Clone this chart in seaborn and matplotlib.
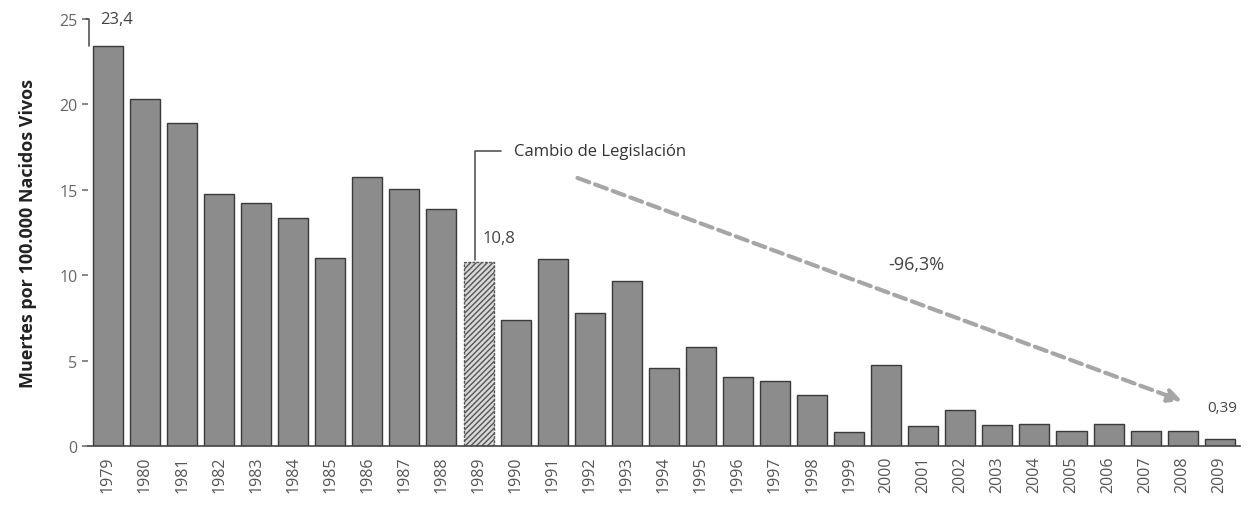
import matplotlib
matplotlib.use("Agg")
import matplotlib.pyplot as plt
import seaborn as sns
import pandas as pd
import numpy as np

years = [str(y) for y in [1979] + list(range(1980, 2010))]
values = [23.4, 20.3, 18.9, 14.75, 14.2, 13.35, 11.0, 15.75, 15.05, 13.9,
          10.8, 7.4, 10.95, 7.8, 9.65, 4.55, 5.8, 4.05, 3.8, 3.0,
          0.8, 4.75, 1.15, 2.1, 1.25, 1.3, 0.9, 1.3, 0.85, 0.85, 0.39]
yticks = [0, 5, 10, 15, 20, 25]

sns.set_theme(style="white")
plt.rcParams['font.family'] = ['Open Sans', 'DejaVu Sans']

df = pd.DataFrame({"year": years, "value": values})

fig = plt.figure(figsize=(12.51, 5.06), dpi=100)
ax = fig.add_axes([0.0703, 0.1166, 0.991 - 0.0703, 0.9605 - 0.1166])

sns.barplot(data=df, x="year", y="value", color="#8c8c8c", saturation=1,
            width=0.81, edgecolor="#3a3a3a", linewidth=1.0, ax=ax)

# hatched 1989 bar
idx89 = years.index("1989")
p = ax.patches[idx89]
p.set_facecolor("#d9d9d9")
p.set_hatch("//////")
p.set_edgecolor("#555555")
p.set_linestyle((0, (2, 1)))

ax.set_ylim(0, 25)
ax.set_xlim(-0.54, len(years) - 0.46)
ax.set_yticks(yticks)
ax.set_yticklabels([str(t) for t in yticks], fontsize=11.5, color="#666666")
ax.set_xlabel("")
ax.set_ylabel("Muertes por 100.000 Nacidos Vivos", fontsize=13, fontweight="bold",
              color="#222222", labelpad=16)
ax.tick_params(axis="x", which="major", length=0, rotation=90, labelsize=11.5,
               labelcolor="#555555", pad=7)
ax.set_xticks(np.arange(len(years)) - 0.5, minor=True)
ax.tick_params(axis="x", which="minor", length=4, color="#555555", direction="out")
ax.tick_params(axis="y", which="major", length=4, color="#777777", direction="out", left=True)
for s in ["top", "right", "left"]:
    ax.spines[s].set_visible(False)
ax.spines["bottom"].set_color("#444444")
ax.spines["bottom"].set_linewidth(1.2)

# annotations
ax.plot([-0.6, -0.5, -0.5], [25, 25, 23.4], color="#555555", lw=1.2, clip_on=False)
ax.text(-0.2, 25, "23,4", fontsize=12, color="#444444", va="center", ha="left")

ax.plot([9.9, 9.9, 10.6], [10.9, 17.3, 17.3], color="#555555", lw=1.2)
ax.text(10.95, 17.3, "Cambio de Legislación", fontsize=12, color="#333333", va="center", ha="left")
ax.text(10.1, 12.15, "10,8", fontsize=12, color="#444444", va="center", ha="left")

ax.annotate("", xy=(29.05, 2.58), xytext=(12.6, 15.75),
            arrowprops=dict(arrowstyle="-|>", color="#a6a6a6", lw=3,
                            linestyle=(0, (3, 1.5)), mutation_scale=20))
ax.text(21.8, 10.65, "-96,3%", fontsize=13, color="#444444", va="center", ha="center")
ax.text(29.65, 2.25, "0,39", fontsize=11, color="#444444", va="center", ha="left")

fig.savefig("out.png", dpi=100)
